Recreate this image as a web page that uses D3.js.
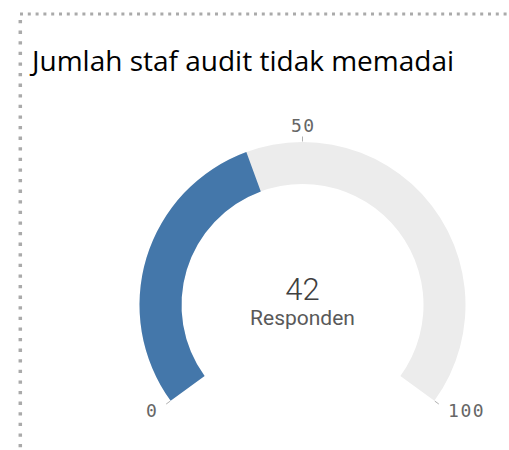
<!DOCTYPE html>
<html>
<head>
<meta charset="utf-8">
<script src="https://cdn.jsdelivr.net/npm/d3@7"></script>
<style>
  html, body { margin: 0; padding: 0; background: #fff; }
  svg { display: block; }
</style>
</head>
<body>
<svg id="chart" width="509" height="450"></svg>
<script>
// gauge data
const title = "Jumlah staf audit tidak memadai";
const gaugeMin = [0];
const gaugeMax = [100];
const gaugeValue = [42];
const tickValues = [0, 50, 100];
const tickLabels = ["0", "50", "100"];
const measureLabel = ["Responden"];

const W = 509, H = 450;
const cx = 302.5, cy = 305;
const outerR = 163, innerR = 121;
const tickSpacing = 1.5;

const svg = d3.select("#chart");

// dotted panel border (top + left only, rest is off-screen)
svg.append("line")
    .attr("x1", 20).attr("y1", 14)
    .attr("x2", W).attr("y2", 14)
    .attr("stroke", "#aaa")
    .attr("stroke-width", 3)
    .attr("stroke-dasharray", "3 4.8");

svg.append("line")
    .attr("x1", 20.3).attr("y1", 20)
    .attr("x2", 20.3).attr("y2", H)
    .attr("stroke", "#aaa")
    .attr("stroke-width", 3.5)
    .attr("stroke-dasharray", "3.3 7.3");

// title
svg.append("text")
    .attr("x", 32)
    .attr("y", 71)
    .attr("font-family", "'Open Sans', sans-serif")
    .attr("font-size", "28px")
    .attr("fill", "#000")
    .text(title);

const angle = d3.scaleLinear()
    .domain([gaugeMin[0], gaugeMax[0]])
    .range([-0.7 * Math.PI, 0.7 * Math.PI]);

const g = svg.append("g").attr("transform", `translate(${cx},${cy})`);

const arc = d3.arc()
    .innerRadius(innerR)
    .outerRadius(outerR);

// background track
g.append("path")
    .attr("d", arc({startAngle: angle(gaugeMin[0]), endAngle: angle(gaugeMax[0])}))
    .attr("fill", "#ececec");

// value
g.append("path")
    .attr("d", arc({startAngle: angle(gaugeMin[0]), endAngle: angle(gaugeValue[0])}))
    .attr("fill", "#4477aa");

// ticks + labels
const tickG = g.selectAll(".tick")
    .data(tickValues)
    .join("g")
    .attr("class", "tick");

tickG.append("line")
    .attr("x1", d => Math.sin(angle(d)) * (outerR + 0.5))
    .attr("y1", d => -Math.cos(angle(d)) * (outerR + 0.5))
    .attr("x2", d => Math.sin(angle(d)) * (outerR + 5.5))
    .attr("y2", d => -Math.cos(angle(d)) * (outerR + 5.5))
    .attr("stroke", "#b0b0b0")
    .attr("stroke-width", 1);

const anchorOf = d => {
    const s = Math.sin(angle(d));
    return s < -0.1 ? "end" : s > 0.1 ? "start" : "middle";
};

tickG.append("text")
    .attr("x", d => Math.sin(angle(d)) * (outerR + 17))
    .attr("y", d => -Math.cos(angle(d)) * (outerR + 17))
    .attr("dx", d => anchorOf(d) === "end" ? tickSpacing : anchorOf(d) === "middle" ? tickSpacing / 2 : 0)
    .attr("text-anchor", anchorOf)
    .attr("dominant-baseline", "central")
    .attr("font-family", "'DejaVu Sans Mono', monospace")
    .attr("font-size", "18px")
    .attr("letter-spacing", tickSpacing + "px")
    .attr("fill", "#666")
    .text((d, i) => tickLabels[i]);

// center value
g.append("text")
    .attr("x", 0)
    .attr("y", -5)
    .attr("text-anchor", "middle")
    .attr("font-family", "Roboto, sans-serif")
    .attr("font-weight", 300)
    .attr("font-size", "31px")
    .attr("fill", "#404040")
    .text(gaugeValue[0]);

g.append("text")
    .attr("x", 0)
    .attr("y", 20)
    .attr("text-anchor", "middle")
    .attr("font-family", "Roboto, sans-serif")
    .attr("font-size", "21px")
    .attr("fill", "#595959")
    .text(measureLabel[0]);
</script>
</body>
</html>
